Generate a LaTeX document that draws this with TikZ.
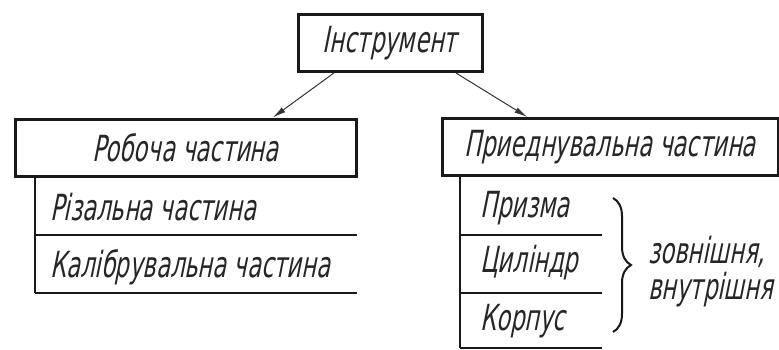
\documentclass[tikz,border=0pt]{standalone}
\usepackage{fontspec}
% narrow slanted sans, close to a drafting lettering style
\newfontfamily\gost[FakeSlant=0.2,FakeStretch=0.63]{DejaVu Sans}
\usetikzlibrary{arrows.meta,decorations.pathreplacing,calc}
\begin{document}
\begin{tikzpicture}[x=1pt,y=-1pt,
  txt/.style={font=\gost\fontsize{36}{40}\selectfont,text=black!85},
  box/.style={txt,draw=black!90,line width=3pt,minimum height=57pt,inner sep=0pt},
  lbl/.style={txt,anchor=base west,inner sep=0pt},
  rule/.style={line width=2.7pt,draw=black!90},
  conn/.style={line width=1pt,draw=black!80,-{Latex[length=13pt,width=6pt]}},
  brc/.style={line width=2pt,draw=black!90,decorate,decoration={brace,amplitude=18pt}}]
\useasboundingbox (0,0) rectangle (779,349);

% main boxes
\node[box,minimum width=184pt] (top) at (390,43) {Інструмент};
\node[box,minimum width=341pt] (work) at (185.5,147.5) {Робоча частина};
\node[box,minimum width=336pt] (attach) at (610,147) {Приеднувальна частина};

% connectors
\draw[conn] ($(top.south west)!0.2!(top.south east)$) -- ($(work.north west)!0.754!(work.north east)$);
\draw[conn] ($(top.south west)!0.853!(top.south east)$) -- ($(attach.north west)!0.256!(attach.north east)$);

% left list
\coordinate (l0) at (35,176);
\coordinate (l1) at (35,235);
\coordinate (l2) at (35,293);
\coordinate (l1e) at (357,235);
\coordinate (l2e) at (357,293);
\draw[rule] (l0) -- (l2);
\draw[rule] (l1) -- (l1e);
\draw[rule] (l2) -- (l2e);
\node[lbl] (cut) at (50,220) {Різальна частина};
\node[lbl] (cal) at (50,277) {Калібрувальна частина};

% right list
\coordinate (r0) at (460,176);
\coordinate (r1) at (460,235);
\coordinate (r2) at (460,293);
\coordinate (r3) at (460,348);
\coordinate (r1e) at (602,235);
\coordinate (r2e) at (602,293);
\coordinate (r3e) at (602,348);
\draw[rule] (r0) -- (r3);
\draw[rule] (r1) -- (r1e);
\draw[rule] (r2) -- (r2e);
\draw[rule] (r3) -- (r3e);
\node[lbl] (prism) at (480,217) {Призма};
\node[lbl] (cyl) at (480,272) {Циліндр};
\node[lbl] (body) at (480,330) {Корпус};

% brace and its note
\coordinate (b0) at (613,198);
\coordinate (b1) at (613,332);
\draw[brc] (b0) -- (b1);
\node[lbl] (outer) at (648,263) {зовнішня,};
\node[lbl] (inner) at (648,299) {внутрішня};
\end{tikzpicture}
\end{document}
